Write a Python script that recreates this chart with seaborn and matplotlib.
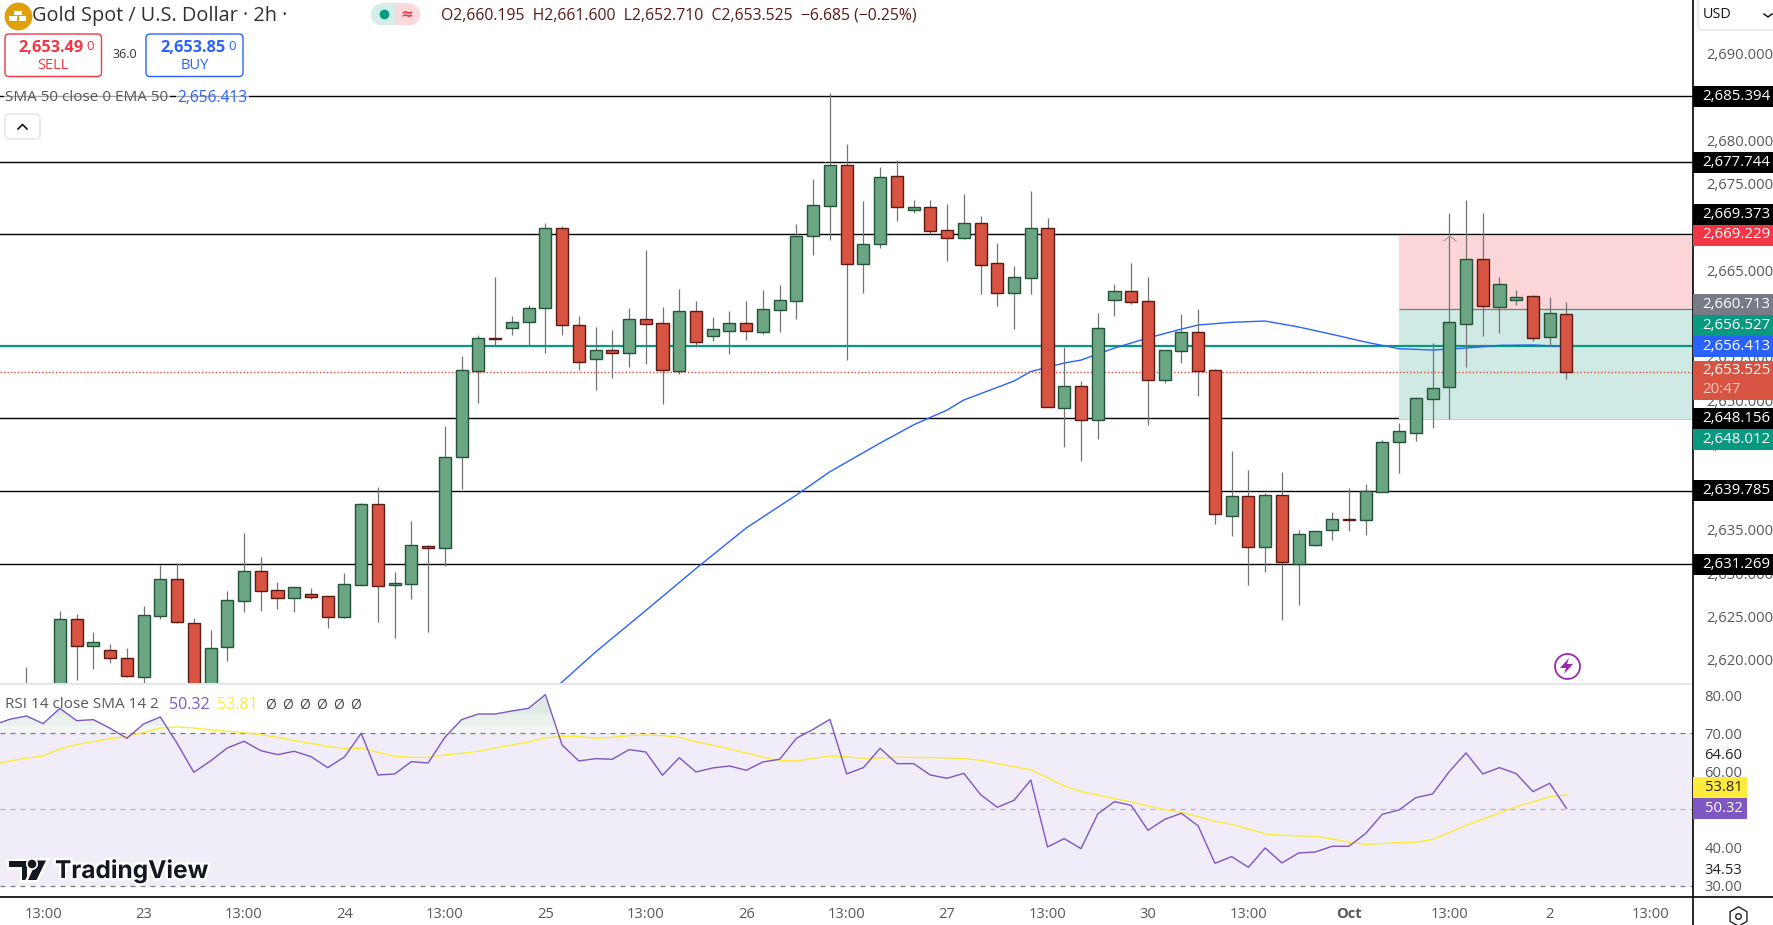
import numpy as np
import matplotlib.pyplot as plt
import matplotlib.patheffects as path_effects
from matplotlib.patches import FancyBboxPatch
from matplotlib.transforms import ScaledTranslation
from seaborn import lineplot

plt.style.use('default')
plt.rcParams['font.family'] = 'Open Sans'

# candles, 2h bars, oldest first
opens = [2613.5, 2616.5, 2615.0, 2624.92, 2621.78, 2621.33, 2620.5, 2618.28, 2625.33, 2629.53,
         2624.46, 2617.0, 2621.66, 2627.06, 2630.44, 2628.26, 2627.43, 2627.8, 2627.55, 2625.2,
         2628.92, 2638.2, 2628.92, 2629.04, 2633.33, 2633.2, 2643.68, 2653.62, 2657.41, 2658.61,
         2659.19, 2660.92, 2670.15, 2658.86, 2654.93, 2655.97, 2655.7, 2659.55, 2659.09, 2653.63,
         2660.48, 2657.67, 2658.25, 2659.09, 2658.13, 2660.67, 2661.71, 2669.14, 2672.68, 2677.34,
         2665.9, 2668.21, 2676.07, 2672.22, 2672.49, 2669.83, 2668.98, 2670.64, 2666.02, 2662.63,
         2664.37, 2670.06, 2649.35, 2651.82, 2647.97, 2661.83, 2662.79, 2661.63, 2652.6, 2655.93,
         2658.05, 2653.67, 2636.88, 2639.12, 2633.3, 2639.23, 2631.34, 2633.54, 2635.19, 2636.5,
         2636.42, 2639.65, 2645.43, 2646.47, 2650.39, 2651.7, 2659.05, 2666.48, 2661.02, 2661.83,
         2662.2, 2657.55, 2660.195]
highs = [2619.39, 2617.2, 2625.82, 2625.49, 2623.43, 2622.03, 2621.62, 2626.44, 2631.18, 2631.39,
         2625.12, 2623.68, 2628.18, 2634.9, 2632.09, 2629.2, 2628.6, 2628.55, 2627.55, 2630.28,
         2638.36, 2640.18, 2630.36, 2636.26, 2633.45, 2647.23, 2655.31, 2657.7, 2664.43, 2659.93,
         2661.17, 2670.65, 2670.32, 2659.93, 2658.67, 2658.32, 2660.87, 2667.56, 2660.94, 2663.02,
         2661.63, 2659.78, 2660.51, 2661.67, 2662.94, 2663.52, 2670.56, 2675.76, 2685.65, 2679.8,
         2673.22, 2677.1, 2677.95, 2673.33, 2673.33, 2672.87, 2674.03, 2671.49, 2668.37, 2665.71,
         2674.37, 2671.26, 2656.37, 2652.43, 2660.28, 2663.63, 2666.06, 2664.44, 2655.97, 2660.17,
         2660.75, 2653.78, 2644.35, 2642.16, 2639.5, 2641.92, 2635.23, 2635.11, 2637.31, 2640.08,
         2640.54, 2645.58, 2647.58, 2650.58, 2656.82, 2671.83, 2673.33, 2671.83, 2664.44, 2662.94,
         2662.33, 2662.13, 2661.6]
lows = [2612.8, 2614.5, 2614.3, 2617.95, 2619.23, 2619.89, 2618.28, 2617.5, 2625.0, 2624.5,
        2616.0, 2616.5, 2620.09, 2625.74, 2625.9, 2626.15, 2625.74, 2627.27, 2623.93, 2625.12,
        2628.9, 2624.59, 2622.77, 2627.27, 2623.43, 2631.1, 2639.97, 2649.91, 2656.55, 2657.74,
        2656.63, 2655.68, 2657.74, 2653.7, 2651.39, 2652.82, 2654.09, 2654.4, 2649.82, 2653.24,
        2656.4, 2657.05, 2655.55, 2657.17, 2657.86, 2658.09, 2659.59, 2666.98, 2668.71, 2654.86,
        2662.6, 2667.83, 2670.91, 2671.83, 2669.41, 2666.29, 2668.83, 2662.48, 2661.09, 2658.44,
        2662.48, 2649.4, 2644.81, 2643.2, 2645.73, 2659.94, 2661.33, 2647.35, 2652.24, 2654.51,
        2650.7, 2635.92, 2634.53, 2628.88, 2630.38, 2624.84, 2626.57, 2633.38, 2634.07, 2635.11,
        2634.69, 2639.6, 2641.81, 2645.54, 2647.04, 2648.08, 2654.09, 2657.67, 2657.97, 2661.21,
        2657.05, 2656.51, 2652.71]
closes = [2616.5, 2615.0, 2624.92, 2621.78, 2622.24, 2620.5, 2618.4, 2625.37, 2629.53, 2624.55,
          2617.0, 2621.58, 2627.1, 2630.44, 2628.22, 2627.43, 2628.59, 2627.5, 2625.2, 2628.96,
          2638.2, 2628.71, 2629.08, 2633.45, 2633.2, 2643.6, 2653.66, 2657.37, 2657.33, 2659.19,
          2660.92, 2670.15, 2658.94, 2654.65, 2655.97, 2655.63, 2659.55, 2659.05, 2653.74, 2660.48,
          2656.98, 2658.4, 2659.09, 2658.25, 2660.71, 2661.75, 2669.14, 2672.72, 2677.34, 2665.9,
          2668.21, 2675.95, 2672.49, 2672.49, 2669.79, 2668.98, 2670.64, 2665.86, 2662.63, 2664.4,
          2670.06, 2649.47, 2651.82, 2647.97, 2658.52, 2662.79, 2661.6, 2652.6, 2655.97, 2658.05,
          2653.63, 2637.04, 2639.12, 2633.3, 2639.23, 2631.57, 2634.73, 2635.07, 2636.46, 2636.42,
          2639.73, 2645.35, 2646.62, 2650.43, 2651.59, 2659.21, 2666.48, 2661.13, 2663.6, 2662.09,
          2657.44, 2660.25, 2653.525]

# moving average, read every few bars
ema_bars = [31, 34, 37, 40, 43, 46, 48, 51, 53, 55, 56, 59, 60, 62, 63, 65, 67, 69, 70, 72,
            74, 76, 78, 80, 82, 84, 86, 88, 90, 92]
ema_values = [2615.94, 2621.14, 2625.93, 2630.78, 2635.46, 2639.27, 2641.96, 2645.27, 2647.37,
              2649.08, 2650.24, 2652.43, 2653.53, 2654.51, 2654.85, 2656.24, 2657.4, 2658.43,
              2658.9, 2659.21, 2659.36, 2658.67, 2657.82, 2656.93, 2656.16, 2656.01, 2656.24,
              2656.55, 2656.59, 2656.413]

# rsi pane starts two bars before the first candle
rsi_values = [72.1, 73.67, 74.55, 72.54, 76.56, 73.32, 73.59, 71.31, 68.69, 72.45,
              74.29, 67.38, 59.76, 62.74, 66.15, 67.9, 65.45, 64.4, 65.28, 63.88,
              60.99, 63.79, 70.0, 59.06, 59.33, 62.56, 62.21, 68.95, 73.59, 75.07,
              75.07, 75.86, 76.56, 80.15, 66.94, 62.74, 63.35, 63.18, 65.71, 65.1,
              58.98, 63.61, 59.85, 60.9, 61.43, 60.29, 62.48, 63.18, 68.69, 71.05,
              73.67, 59.33, 60.99, 66.06, 62.04, 62.04, 59.06, 58.19, 59.5, 53.9,
              50.58, 52.41, 57.75, 40.17, 42.35, 39.73, 48.83, 52.06, 51.1, 44.54,
              47.43, 49.0, 45.68, 35.88, 37.63, 34.83, 39.9, 35.97, 38.59, 38.85,
              40.34, 40.34, 43.67, 48.74, 49.88, 53.11, 54.08, 59.94, 64.84, 59.33,
              60.99, 59.41, 54.69, 56.88, 50.32]
rsi_ma_values = [61.6, 62.74, 63.44, 64.05, 65.89, 67.03, 67.81, 68.6, 69.13, 70.17,
                 71.4, 71.66, 71.4, 70.87, 70.52, 70.17, 69.65, 68.95, 68.08, 67.38,
                 66.5, 66.06, 66.06, 65.01, 63.96, 63.7, 63.7, 64.31, 64.75, 65.28,
                 66.15, 66.94, 67.73, 68.78, 69.21, 69.13, 68.69, 68.95, 69.39, 69.56,
                 69.39, 68.95, 67.81, 66.85, 65.89, 64.84, 63.7, 62.83, 62.74, 63.44,
                 64.05, 63.79, 63.44, 63.53, 63.7, 63.7, 63.61, 63.53, 63.35, 62.91,
                 62.04, 61.25, 60.46, 58.28, 56.18, 54.69, 53.81, 52.85, 51.98, 50.93,
                 49.96, 49.27, 48.13, 46.9, 46.12, 44.89, 43.58, 43.23, 43.05, 42.97,
                 42.27, 41.39, 40.87, 41.04, 41.3, 41.39, 42.09, 43.93, 45.85, 47.43,
                 49.09, 50.75, 51.98, 53.38, 53.81]

# drawn levels and the long position box
levels = [2685.394, 2677.744, 2669.373, 2648.156, 2639.785, 2631.269]
entry_bar = 82
stop_price = 2669.229
entry_price = 2660.713
target_price = 2648.012
bid_line = 2656.527
last_close = 2653.525

price_ticks = [2620, 2625, 2630, 2635, 2645, 2650, 2655, 2665, 2675, 2680, 2690]
time_bars = [1, 7, 13, 19, 25, 31, 37, 43, 49, 55, 61, 67, 73, 79, 85, 91, 97]
time_labels = ['13:00', '23', '13:00', '24', '13:00', '25', '13:00', '26', '13:00', '27',
               '13:00', '30', '13:00', 'Oct', '13:00', '2', '13:00']
rsi_ticks = [30, 34.53, 40, 60, 64.6, 70, 80]

# label boxes on the price scale: text, colour, centre height on screen
price_tags = [('2,685.394', 'black', 96), ('2,677.744', 'black', 162), ('2,669.373', 'black', 214.5),
              ('2,669.229', '#f23645', 235), ('2,660.713', '#787b86', 304.5),
              ('2,656.527', '#089981', 325.5), ('2,656.413', '#2962ff', 346),
              ('2,648.156', 'black', 418.5), ('2,648.012', '#089981', 439.5),
              ('2,639.785', 'black', 490), ('2,631.269', 'black', 564.5)]

WIDTH, HEIGHT = 1774, 925
AXIS_X = 1693.5
BAR_LEFT = -1.577
BAR_RIGHT = 99.59
GREY_TEXT = '#555860'


def plot_candles(fig):
    bars = np.arange(len(opens))
    o, h, l, c = np.array(opens), np.array(highs), np.array(lows), np.array(closes)
    up = c >= o

    plt.axes([0, (HEIGHT - 683) / HEIGHT, AXIS_X / WIDTH, 683 / HEIGHT])

    # levels first, the position box hides the ones it touches
    for level in levels:
        plt.axhline(level, c='black', lw=1.0, zorder=1)
    plt.fill_between([entry_bar, BAR_RIGHT], entry_price, stop_price, color='#fbd5d8', lw=0, zorder=1.5)
    plt.fill_between([entry_bar, BAR_RIGHT], target_price, entry_price, color='#cfeae4', lw=0, zorder=1.5)
    plt.hlines(entry_price, entry_bar, BAR_RIGHT, colors='#787b86', lw=0.9, zorder=1.6)

    plt.axhline(bid_line, c='#089981', lw=1.6, zorder=2)
    plt.axhline(last_close, c='#e0483c', lw=1.0, ls=(0, (1, 1.5)), zorder=2)
    lineplot(x=ema_bars, y=ema_values, color='#2962ff', linewidth=1.0, zorder=2.5)

    plt.vlines(bars, l, h, colors='#737375', lw=0.9, zorder=3)
    # body is never thinner than its border
    plt.bar(bars[up], (c - o)[up], bottom=o[up], width=0.72, color='#6ba583', edgecolor='#225437', lw=1.0, zorder=3.1)
    plt.bar(bars[~up], (o - c)[~up], bottom=c[~up], width=0.72, color='#d75442', edgecolor='#5b1a13', lw=1.0, zorder=3.1)

    plt.xlim(BAR_LEFT, BAR_RIGHT)
    plt.ylim(2617.56, 2696.43)
    plt.xticks([])
    plt.yticks(price_ticks, [f'{t:,.3f}' for t in price_ticks])
    plt.tick_params(axis='y', left=False, right=False, labelleft=False, labelright=True, pad=6,
                    labelsize=10.6, labelcolor=GREY_TEXT)
    # the scale prints its numbers a little above the exact height
    nudge = ScaledTranslation(0, 2 / 100, fig.dpi_scale_trans)
    for label in plt.gca().get_yticklabels():
        label.set_transform(label.get_transform() + nudge)
    for side in plt.gca().spines.values():
        side.set_visible(False)


def plot_rsi():
    bars = np.arange(-2, len(rsi_values) - 2)
    rsi = np.array(rsi_values)

    plt.axes([0, (HEIGHT - 897) / HEIGHT, AXIS_X / WIDTH, 213 / HEIGHT])

    plt.axhspan(30, 70, color='#f0ecf8', lw=0, zorder=1)
    # steps of green stand in for the fade above 70
    for floor, color in [(70, '#f3f7f4'), (72, '#e9f1ec'), (75, '#e0eae4')]:
        plt.fill_between(bars, floor, rsi, where=rsi >= floor, interpolate=True, color=color, lw=0, zorder=1)
    plt.axhline(70, c='#787b86', lw=0.9, ls=(0, (4, 4)), zorder=1.5)
    plt.axhline(50, c='#b2b3ba', lw=0.9, ls=(0, (4, 4)), zorder=1.5)
    plt.axhline(30, c='#787b86', lw=0.9, ls=(0, (4, 4)), zorder=1.5)

    lineplot(x=bars, y=rsi_ma_values, color='#ffe93b', linewidth=1.0, zorder=2)
    lineplot(x=bars, y=rsi_values, color='#7e57c2', linewidth=1.0, zorder=2.5)

    plt.xlim(BAR_LEFT, BAR_RIGHT)
    plt.ylim(27.03, 82.94)
    plt.xticks(time_bars, time_labels)
    plt.yticks(rsi_ticks, [f'{t:.2f}' for t in rsi_ticks])
    plt.tick_params(axis='both', length=0, labelsize=10.6, labelcolor=GREY_TEXT)
    plt.tick_params(axis='x', pad=7.5)
    plt.tick_params(axis='y', left=False, labelleft=False, labelright=True, pad=8)
    labels = plt.gca().get_yticklabels()
    labels[1].set_color('#222222')
    labels[4].set_color('#222222')
    plt.gca().get_xticklabels()[13].set_fontweight('bold')
    for side in plt.gca().spines.values():
        side.set_visible(False)


def box(x0, y0, x1, y1, color):
    plt.fill([x0, x1, x1, x0], [y0, y0, y1, y1], color=color, lw=0, zorder=2)


def rounded(x0, y0, x1, y1, edge, face='white', lw=1.0):
    plt.gca().add_patch(FancyBboxPatch((x0 + 3, y0 + 3), x1 - x0 - 6, y1 - y0 - 6, boxstyle='round,pad=3,rounding_size=4',
                                       fc=face, ec=edge, lw=lw, zorder=2))


def plot_overlay():
    """Everything of the trading screen around the panes, in screen pixels"""
    plt.axes([0, 0, 1, 1], facecolor='none')
    plt.xlim(0, WIDTH)
    plt.ylim(HEIGHT, 0)
    plt.axis('off')

    # frame
    plt.plot([0, AXIS_X], [683.5, 683.5], c='#e0e3eb', lw=1.3)
    plt.plot([0, WIDTH], [897, 897], c='black', lw=1.2)
    plt.plot([AXIS_X, AXIS_X], [0, HEIGHT], c='black', lw=1.2)

    # price scale tags
    for text, color, y in price_tags:
        box(AXIS_X, y - 10.5, WIDTH, y + 10.5, color)
        plt.text(1702, y, text, color='white', fontsize=10.8, va='center', fontweight='medium')
    box(AXIS_X, 361, WIDTH, 399.5, '#d75442')
    plt.text(1702, 370.5, f'{last_close:,.3f}', color='white', fontsize=10.8, va='center')
    plt.text(1702, 389.5, '20:47', color='#f7c9c3', fontsize=10.8, va='center')

    # rsi scale tags
    box(AXIS_X, 777, 1747, 797.5, '#ffeb3b')
    plt.text(1705, 787.5, '53.81', color='#222222', fontsize=10.6, va='center')
    box(AXIS_X, 798, 1747, 818.5, '#7e57c2')
    plt.text(1705, 808.5, '50.32', color='white', fontsize=10.6, va='center')

    # currency switch and settings
    rounded(1698, -8, 1790, 30, '#e0e3eb')
    plt.text(1703, 15, 'USD', color='#131722', fontsize=10.4, va='center')
    plt.plot([1764, 1768, 1772], [14, 17, 14], c='#131722', lw=1.1)
    plt.plot(1738, 915.5, marker='h', ms=14, mfc='white', mec='#222222', mew=1.0)
    plt.plot(1738, 915.5, marker='o', ms=4, mfc='white', mec='#222222', mew=1.0)

    # title row
    plt.plot(18, 16, marker='o', ms=19, mfc='#dfa00b', mec='#dfa00b')
    box(14, 10.5, 22, 15, 'white')
    box(9.5, 16, 17, 21, 'white')
    box(19, 16, 26.5, 21, 'white')
    plt.text(32, 15.5, 'Gold Spot / U.S. Dollar · 2h ·', color='#2e3138', fontsize=14.3, va='center')
    plt.plot(381, 14, marker='o', ms=15.5, mfc='#d5ede8', mec='none')
    plt.plot(409, 14, marker='o', ms=15.5, mfc='#fad9dc', mec='none')
    box(381, 3.2, 395, 24.8, '#d5ede8')
    box(395, 3.2, 409, 24.8, '#fad9dc')
    plt.plot(384.5, 14, marker='o', ms=7, mfc='#089981', mec='none')
    plt.text(406.5, 14, '≈', color='#f23645', fontsize=11, va='center', ha='center', fontweight='bold', family='DejaVu Sans')
    plt.text(441, 15.5, 'O2,660.195  H2,661.600  L2,652.710  C2,653.525  −6.685 (−0.25%)', color='#5b1a13',
             fontsize=11.3, va='center')

    # sell and buy
    rounded(5, 34, 101.5, 76.5, '#f23645')
    plt.text(18, 48, '2,653.49', color='#f23645', fontsize=11.8, va='center', fontweight='bold')
    plt.text(86, 47, '0', color='#f23645', fontsize=9.5, va='center')
    plt.text(53, 65.5, 'SELL', color='#f23645', fontsize=10.5, va='center', ha='center')
    plt.text(124.5, 55, '36.0', color='#333333', fontsize=9, va='center', ha='center')
    rounded(146, 34, 243, 76.5, '#2962ff')
    plt.text(160, 48, '2,653.85', color='#2962ff', fontsize=11.8, va='center', fontweight='bold')
    plt.text(228, 47, '0', color='#2962ff', fontsize=9.5, va='center')
    plt.text(195, 65.5, 'BUY', color='#2962ff', fontsize=10.5, va='center', ha='center')

    # indicator legends
    halo = dict(fc='white', ec='none', alpha=0.65, pad=1)
    plt.text(5, 97.5, 'SMA 50 close 0 EMA 50', color=GREY_TEXT, fontsize=11, va='center', bbox=halo)
    plt.text(177, 97.5, '2,656.413', color='#2962ff', fontsize=11.2, va='center', bbox=halo)
    rounded(5, 114, 40, 139, '#e0e3eb')
    plt.plot([18, 22.5, 27], [129, 124.5, 129], c='#131722', lw=1.2)
    plt.text(5, 705, 'RSI 14 close SMA 14 2', color=GREY_TEXT, fontsize=11, va='center')
    plt.text(169, 705, '50.32', color='#7e57c2', fontsize=11.6, va='center')
    plt.text(217, 705, '53.81', color='#ffe93b', fontsize=11.6, va='center')
    for x in range(265, 360, 17):
        plt.text(x, 705, 'Ø', color='#444444', fontsize=10, va='center')

    # little marker on the high of the entry candle
    plt.plot([1444, 1450, 1456], [241, 236, 241], c='#9a9ca3', lw=0.8)

    # replay button
    plt.plot(1566.7, 666, marker='o', ms=18, mfc='white', mec='#9c27b0', mew=1.3)
    plt.fill([1569, 1560, 1566, 1564, 1573, 1567], [658, 668, 668, 674, 664, 664], color='#9c27b0', lw=0, zorder=3)

    # logo
    halo_stroke = [path_effects.withStroke(linewidth=3.5, foreground='white')]
    stroke = dict(path_effects=halo_stroke)
    plt.fill([9, 27, 27, 22, 22, 15, 15, 9], [860.5, 860.5, 880, 880, 867, 867, 866.5, 866.5], color='#131722', lw=0, **stroke)
    plt.plot(32, 864, marker='o', ms=5.2, mfc='#131722', mec='#131722', **stroke)
    plt.fill([37, 46, 36.5, 28], [860.5, 860.5, 880, 880], color='#131722', lw=0, **stroke)
    plt.text(55, 870.5, 'TradingView', color='#131722', fontsize=17.6, va='center', family='Inter', fontweight='bold', **stroke)


if __name__ == '__main__':
    fig = plt.figure(figsize=(WIDTH / 100, HEIGHT / 100), dpi=100)

    plot_candles(fig)
    plot_rsi()
    plot_overlay()

    plt.savefig('out.png', dpi=100)
    plt.close(fig)
